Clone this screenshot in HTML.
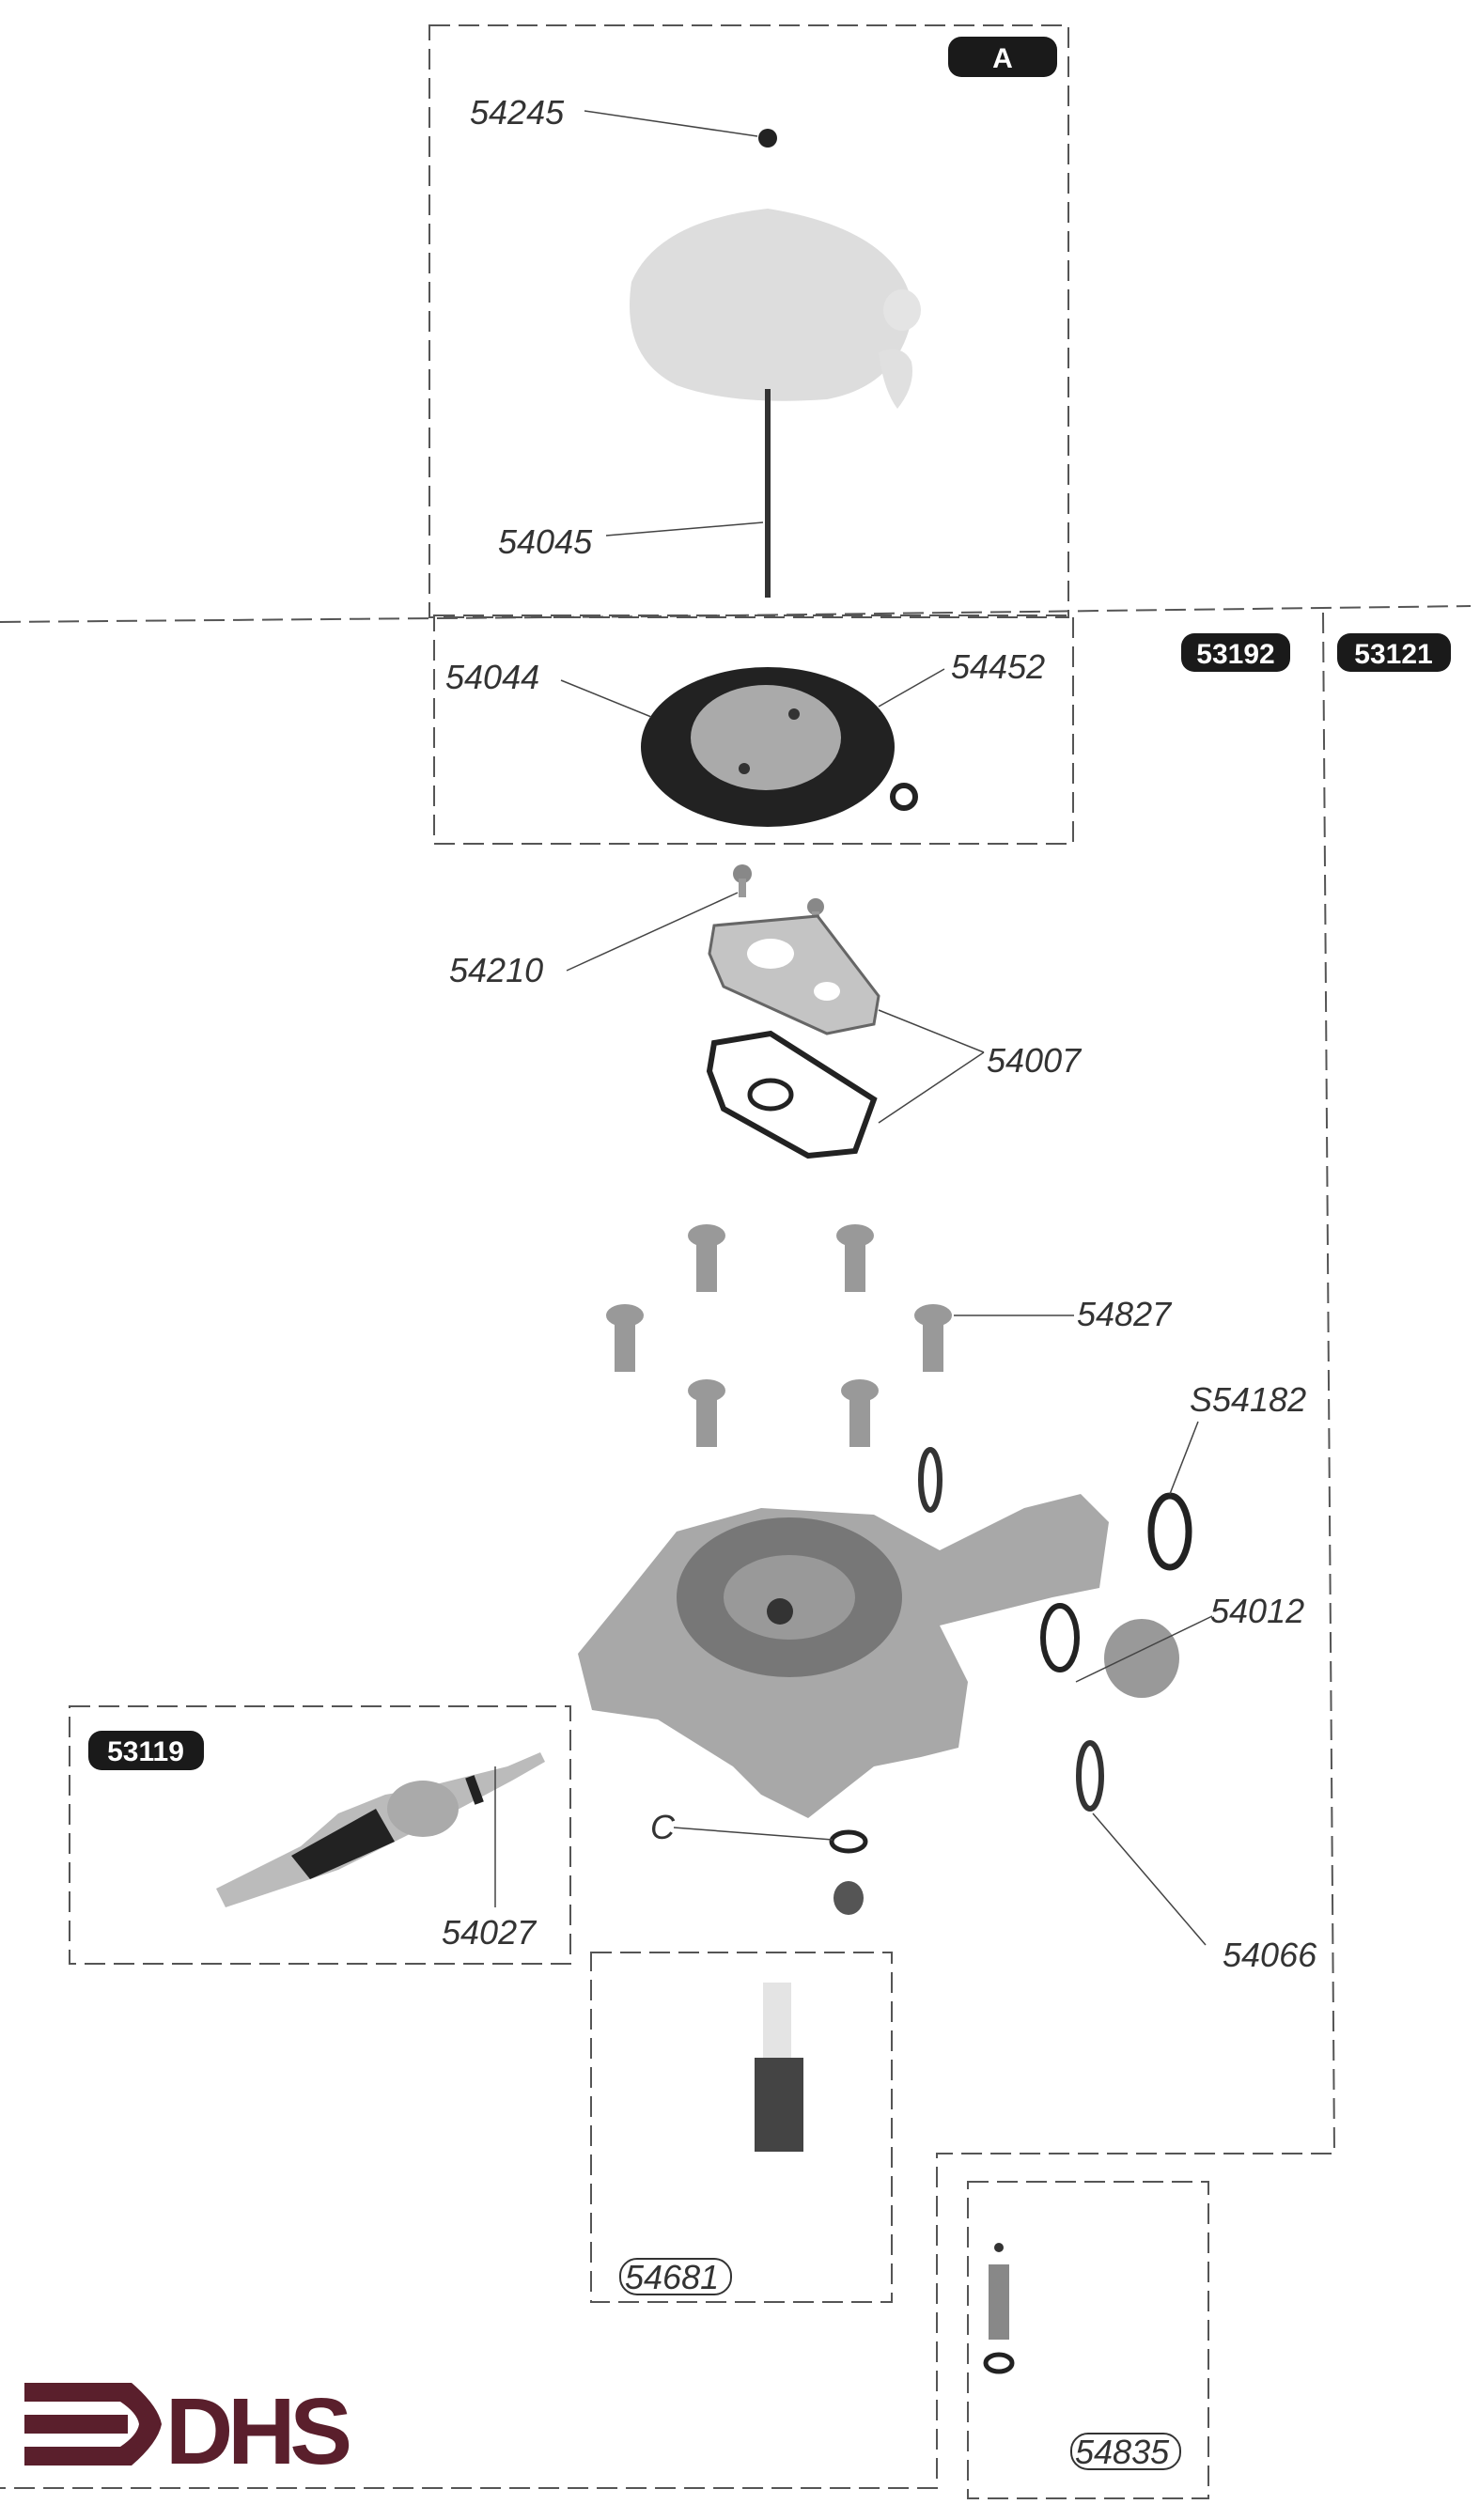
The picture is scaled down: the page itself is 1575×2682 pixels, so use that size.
<!DOCTYPE html>
<html><head><meta charset="utf-8"><style>
html,body{margin:0;padding:0;background:#fff}
svg{display:block}
text{font-family:"Liberation Sans",sans-serif}
.l{font-size:36px;font-style:italic;fill:#333}
.b{font-size:30px;font-weight:bold;fill:#fff}
.d{fill:none;stroke:#555;stroke-width:2;stroke-dasharray:22 9}
.ln{stroke:#444;stroke-width:1.5;fill:none}
</style></head><body>
<svg width="1575" height="2682" viewBox="0 0 1575 2682" xmlns="http://www.w3.org/2000/svg">
<rect class="d" x="457" y="27" width="680" height="630"/>
<path class="d" d="M0 662 L700 656 L1565 645"/>
<rect class="d" x="462" y="655" width="680" height="243"/>
<path class="d" d="M1408 652 L1420 2292 L997 2292 L997 2648 L0 2648"/>
<rect class="d" x="74" y="1816" width="533" height="274"/>
<rect class="d" x="629" y="2078" width="320" height="372"/>
<rect class="d" x="1030" y="2322" width="256" height="337"/>

<rect x="1009" y="39" width="116" height="43" rx="14" fill="#1a1a1a"/>
<text class="b" x="1067" y="72" text-anchor="middle">A</text>
<rect x="1257" y="674" width="116" height="41" rx="14" fill="#1a1a1a"/>
<text class="b" x="1315" y="706" text-anchor="middle">53192</text>
<rect x="1423" y="674" width="121" height="41" rx="14" fill="#1a1a1a"/>
<text class="b" x="1483" y="706" text-anchor="middle">53121</text>
<rect x="94" y="1842" width="123" height="42" rx="14" fill="#1a1a1a"/>
<text class="b" x="155" y="1874" text-anchor="middle">53119</text>

<circle cx="817" cy="147" r="10" fill="#222"/>
<path d="M817 222 Q700 235 672 300 Q660 380 720 410 Q780 432 880 425 Q960 410 972 330 Q960 245 817 222z" fill="#ddd"/>
<ellipse cx="960" cy="330" rx="20" ry="22" fill="#e4e4e4"/>
<path d="M935 375 q25 -10 35 10 q5 25 -15 50 q-15 -20 -20 -60z" fill="#e0e0e0"/>
<rect x="814" y="414" width="6" height="222" fill="#333"/>
<ellipse cx="817" cy="795" rx="135" ry="85" fill="#222"/>
<circle cx="962" cy="848" r="12" fill="#fff" stroke="#222" stroke-width="6"/>
<ellipse cx="815" cy="785" rx="80" ry="56" fill="#aaa"/>
<circle cx="845" cy="760" r="6" fill="#333"/><circle cx="792" cy="818" r="6" fill="#333"/>
<circle cx="790" cy="930" r="10" fill="#888"/><rect x="786" y="935" width="8" height="20" fill="#999"/>
<circle cx="868" cy="965" r="9" fill="#888"/><rect x="864" y="970" width="8" height="18" fill="#999"/>
<path d="M760 985 L870 975 L935 1060 L930 1090 L880 1100 L770 1050 L755 1015z" fill="#c4c4c4" stroke="#666" stroke-width="3"/>
<ellipse cx="820" cy="1015" rx="25" ry="16" fill="#fff"/>
<ellipse cx="880" cy="1055" rx="14" ry="10" fill="#fff"/>
<path d="M760 1110 L820 1100 L930 1170 L910 1225 L860 1230 L770 1180 L755 1140z" fill="none" stroke="#222" stroke-width="6"/>
<ellipse cx="820" cy="1165" rx="22" ry="15" fill="none" stroke="#222" stroke-width="5"/>
<g fill="#999">
<g transform="translate(752,1315)"><ellipse cx="0" cy="0" rx="20" ry="12"/><rect x="-11" y="5" width="22" height="55"/></g>
<g transform="translate(910,1315)"><ellipse cx="0" cy="0" rx="20" ry="12"/><rect x="-11" y="5" width="22" height="55"/></g>
<g transform="translate(665,1400)"><ellipse cx="0" cy="0" rx="20" ry="12"/><rect x="-11" y="5" width="22" height="55"/></g>
<g transform="translate(993,1400)"><ellipse cx="0" cy="0" rx="20" ry="12"/><rect x="-11" y="5" width="22" height="55"/></g>
<g transform="translate(752,1480)"><ellipse cx="0" cy="0" rx="20" ry="12"/><rect x="-11" y="5" width="22" height="55"/></g>
<g transform="translate(915,1480)"><ellipse cx="0" cy="0" rx="20" ry="12"/><rect x="-11" y="5" width="22" height="55"/></g>
</g>
<ellipse cx="990" cy="1575" rx="10" ry="32" fill="none" stroke="#333" stroke-width="6"/>
<ellipse cx="1245" cy="1630" rx="20" ry="38" fill="none" stroke="#222" stroke-width="7"/>
<path d="M660 1705 L720 1630 L810 1605 L930 1612 L1000 1650 L1090 1605 L1150 1590 L1180 1620 L1170 1690 L1120 1700 L1000 1730 L1030 1790 L1020 1860 L980 1870 L930 1880 L860 1935 L810 1910 L780 1880 L700 1830 L630 1820 L615 1760z" fill="#a8a8a8"/>
<ellipse cx="840" cy="1700" rx="120" ry="85" fill="#777"/>
<ellipse cx="840" cy="1700" rx="70" ry="45" fill="#999"/>
<circle cx="830" cy="1715" r="14" fill="#333"/>
<ellipse cx="1128" cy="1743" rx="18" ry="34" fill="none" stroke="#222" stroke-width="6"/>
<ellipse cx="1215" cy="1765" rx="40" ry="42" fill="#999"/>
<ellipse cx="1160" cy="1890" rx="12" ry="35" fill="none" stroke="#333" stroke-width="6"/>
<ellipse cx="903" cy="1960" rx="18" ry="10" fill="none" stroke="#222" stroke-width="5"/>
<ellipse cx="903" cy="2020" rx="16" ry="18" fill="#555"/>
<path d="M230 2010 L320 1965 L360 1930 L410 1910 L440 1905 L540 1880 L575 1865 L580 1875 L545 1895 L470 1935 L430 1955 L360 1990 L330 2000 L240 2030z" fill="#bbb"/>
<path d="M310 1975 L400 1925 L420 1960 L330 2000z" fill="#222"/>
<ellipse cx="450" cy="1925" rx="38" ry="30" fill="#aaa"/>
<rect x="500" y="1890" width="10" height="30" fill="#222" transform="rotate(-20 505 1905)"/>
<rect x="812" y="2110" width="30" height="80" fill="#e4e4e4"/>
<rect x="803" y="2190" width="52" height="100" fill="#444"/>
<circle cx="1063" cy="2392" r="5" fill="#333"/>
<rect x="1052" y="2410" width="22" height="80" fill="#888"/>
<ellipse cx="1063" cy="2515" rx="14" ry="9" fill="none" stroke="#222" stroke-width="5"/>

<path class="ln" d="M622 118 L806 145"/>
<path class="ln" d="M645 570 L812 556"/>
<path class="ln" d="M597 724 L693 763"/>
<path class="ln" d="M1005 712 L935 752"/>
<path class="ln" d="M603 1033 L785 950"/>
<path class="ln" d="M1047 1120 L935 1075 M1047 1120 L935 1195"/>
<path class="ln" d="M1015 1400 L1143 1400"/>
<path class="ln" d="M1275 1513 L1245 1590"/>
<path class="ln" d="M1290 1720 L1145 1790"/>
<path class="ln" d="M717 1945 L886 1958"/>
<path class="ln" d="M527 1880 L527 2030"/>
<path class="ln" d="M1283 2070 L1163 1930"/>

<text class="l" x="500" y="132">54245</text>
<text class="l" x="530" y="589">54045</text>
<text class="l" x="474" y="733">54044</text>
<text class="l" x="1012" y="722">54452</text>
<text class="l" x="478" y="1045">54210</text>
<text class="l" x="1050" y="1141">54007</text>
<text class="l" x="1146" y="1411">54827</text>
<text class="l" x="1266" y="1502">S54182</text>
<text class="l" x="1288" y="1727">54012</text>
<text class="l" x="692" y="1957">C</text>
<text class="l" x="470" y="2069">54027</text>
<text class="l" x="1301" y="2093">54066</text>
<rect x="660" y="2404" width="118" height="38" rx="18" fill="none" stroke="#333" stroke-width="2"/>
<text class="l" x="665" y="2436">54681</text>
<rect x="1140" y="2590" width="116" height="38" rx="18" fill="none" stroke="#333" stroke-width="2"/>
<text class="l" x="1144" y="2622">54835</text>

<path d="M26 2536 L140 2536 Q168 2560 172 2580 Q168 2600 140 2624 L26 2624 L26 2604 L128 2604 Q146 2592 148 2580 Q146 2568 128 2556 L26 2556z" fill="#5a1f2c"/>
<rect x="26" y="2570" width="110" height="20" fill="#5a1f2c"/>
<text x="176" y="2622" style="font-size:100px;font-weight:bold;fill:#5a1f2c;letter-spacing:-6px">DHS</text>
</svg>
</body></html>
